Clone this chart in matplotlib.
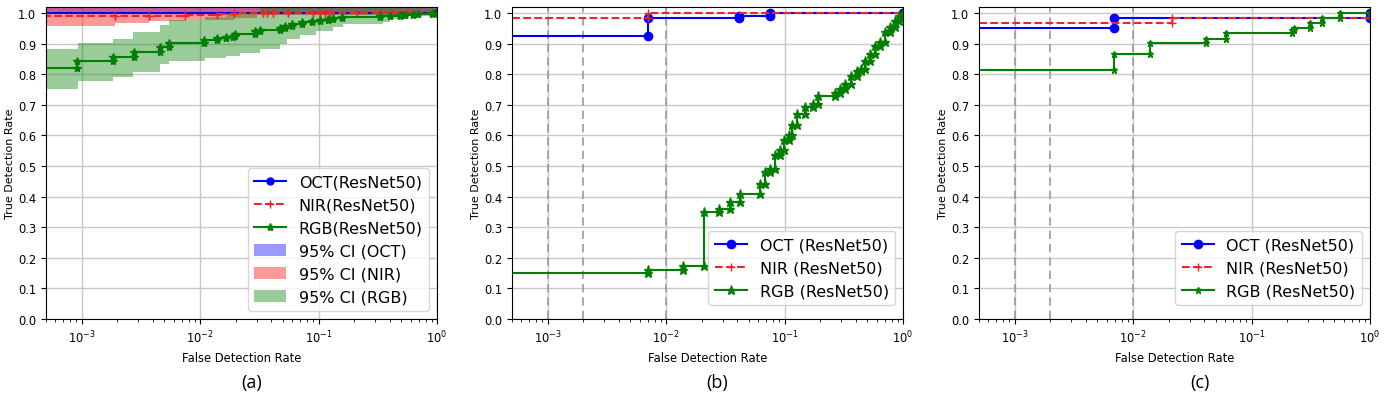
import numpy as np
import matplotlib
matplotlib.use("Agg")
import matplotlib.pyplot as plt

# ---- panel (a): mean ROC with 95% CI ----
a_oct_fpr = [0, 1.0]
a_oct_tpr = [1.0, 1.0]
a_oct_ci_x = [0, 1.0]
a_oct_lo = [0.997, 0.997]
a_oct_hi = [1.016, 1.016]

a_nir_fpr = [0, 0.0019, 0.0037, 0.0074, 0.014, 0.0195, 0.034, 0.0365, 0.041, 0.055,
             0.089, 0.103, 0.113, 0.125, 0.21, 0.33, 0.42, 0.49, 0.56, 0.92, 1.0]
a_nir_tpr = [0.99, 0.99, 0.99, 0.995, 0.996, 1.0, 1.0, 1.0, 1.0, 1.0,
             1.0, 1.0, 1.0, 1.0, 1.0, 1.0, 1.0, 1.0, 1.0, 1.0, 1.0]
a_nir_ci_x = [0, 0.0019, 0.0037, 0.0074, 0.0195, 0.03, 1.0]
a_nir_lo = [0.958, 0.967, 0.974, 0.978, 0.985, 0.995, 0.995]
a_nir_hi = [1.016, 1.016, 1.016, 1.016, 1.016, 1.016, 1.016]

a_rgb_fpr = [0, 0.00092, 0.00184, 0.00275, 0.0046, 0.0055, 0.0108, 0.0138, 0.0166, 0.019,
             0.0196, 0.029, 0.032, 0.047, 0.052, 0.060, 0.072, 0.088, 0.103, 0.120,
             0.132, 0.158, 0.33, 0.40, 0.49, 0.54, 0.63, 0.69, 0.91, 1.0]
a_rgb_tpr = [0.819, 0.842, 0.855, 0.872, 0.890, 0.903, 0.911, 0.918, 0.922, 0.926,
             0.932, 0.940, 0.944, 0.952, 0.957, 0.963, 0.970, 0.975, 0.977, 0.980,
             0.983, 0.986, 0.989, 0.992, 0.994, 0.995, 0.996, 0.997, 0.999, 1.0]
a_rgb_ci_x = [0, 0.00093, 0.00184, 0.0027, 0.0046, 0.0055, 0.0109, 0.0167, 0.0216, 0.032,
              0.047, 0.054, 0.070, 0.096, 0.133, 0.162, 0.35, 0.40, 0.55, 0.93, 1.0]
a_rgb_lo = [0.752, 0.779, 0.790, 0.806, 0.834, 0.845, 0.852, 0.861, 0.870, 0.883,
            0.900, 0.915, 0.930, 0.942, 0.953, 0.964, 0.970, 0.980, 0.990, 0.998, 0.998]
a_rgb_hi = [0.883, 0.901, 0.917, 0.937, 0.961, 0.977, 0.986, 1.0, 1.0, 1.016,
            1.016, 1.016, 1.016, 1.016, 1.016, 1.016, 1.016, 1.016, 1.016, 1.016, 1.016]

# ---- panel (b) ----
b_oct_fpr = [0, 0.007, 0.041, 0.0757, 1.0]
b_oct_tpr = [0.926, 0.984, 0.992, 1.0, 1.0]
b_nir_fpr = [0, 0.007, 1.0]
b_nir_tpr = [0.984, 1.0, 1.0]
b_rgb_fpr = [0, 0.007, 0.0139, 0.0207, 0.0277, 0.0343, 0.0417, 0.0622, 0.0687, 0.0757,
             0.083, 0.092, 0.098, 0.108, 0.115, 0.127, 0.149, 0.175, 0.192, 0.265,
             0.292, 0.322, 0.366, 0.405, 0.446, 0.476, 0.524, 0.58, 0.64, 0.70,
             0.77, 0.85, 0.93, 1.0]
b_rgb_tpr = [0.149, 0.160, 0.174, 0.351, 0.360, 0.383, 0.408, 0.442, 0.480, 0.491,
             0.535, 0.551, 0.584, 0.600, 0.633, 0.671, 0.692, 0.703, 0.728, 0.740,
             0.752, 0.768, 0.793, 0.812, 0.817, 0.845, 0.866, 0.893, 0.904, 0.937,
             0.953, 0.975, 0.991, 1.0]

# ---- panel (c) ----
c_oct_fpr = [0, 0.0069, 1.0]
c_oct_tpr = [0.951, 0.984, 1.0]
c_nir_fpr = [0, 0.0211, 1.0]
c_nir_tpr = [0.967, 0.984, 0.984]
c_rgb_fpr = [0, 0.0069, 0.0138, 0.041, 0.061, 0.218, 0.228, 0.312, 0.39, 0.56, 1.0]
c_rgb_tpr = [0.815, 0.866, 0.901, 0.917, 0.935, 0.945, 0.951, 0.967, 0.984, 1.0, 1.0]

ZERO = 1e-6  # stand-in for fpr = 0 on the log axis


def corners(fpr, tpr):
    # roc points include both corners of every vertical jump
    xs, ys = [fpr[0]], [tpr[0]]
    for i in range(1, len(fpr)):
        xs += [fpr[i], fpr[i]]
        ys += [tpr[i - 1], tpr[i]]
    xs = np.maximum(np.array(xs, dtype=float), ZERO)
    return xs, np.array(ys)


def roc(ax, fpr, tpr, fmt, label, **kw):
    x, y = corners(fpr, tpr)
    ax.plot(x, y, fmt, label=label, lw=1.5, **kw)


def ci(ax, x, lo, hi, color, label):
    x = np.maximum(np.array(x, dtype=float), ZERO)
    ax.fill_between(x, lo, hi, step='post', color=color, alpha=0.4,
                    lw=0, label=label)


def style(ax, vlines):
    ax.set_xscale('log')
    ax.set_xlim(5e-4, 1.0)
    ax.set_ylim(0, 1.02)
    ax.set_yticks(np.arange(0, 1.01, 0.1))
    ax.grid(True, which='major', color='#c8c8c8', lw=1)
    ax.set_axisbelow(True)
    if vlines:
        for v in [1e-3, 2e-3, 1e-2]:
            ax.axvline(v, color='#9a9a9a', ls='--', lw=1.2, dashes=(5, 3), zorder=1.5)
    ax.tick_params(labelsize=8.3)
    ax.set_xlabel('False Detection Rate', fontsize=8.3)
    ax.set_ylabel('True Detection Rate', fontsize=8, labelpad=2)


fig = plt.figure(figsize=(13.87, 4.02), dpi=100)
W, H = 1387, 402
lefts = [46, 512, 979]
axs = [fig.add_axes([l / W, 1 - 320 / H, 391 / W, 312 / H]) for l in lefts]

# (a)
ax = axs[0]
style(ax, False)
ci(ax, a_oct_ci_x, a_oct_lo, a_oct_hi, 'blue', '95% CI (OCT)')
ci(ax, a_nir_ci_x, a_nir_lo, a_nir_hi, 'red', '95% CI (NIR)')
ci(ax, a_rgb_ci_x, a_rgb_lo, a_rgb_hi, 'green', '95% CI (RGB)')
roc(ax, a_oct_fpr, a_oct_tpr, 'b-o', 'OCT(ResNet50)', ms=5)
roc(ax, a_nir_fpr, a_nir_tpr, 'r--+', 'NIR(ResNet50)', ms=6, color='#e8262a')
roc(ax, a_rgb_fpr, a_rgb_tpr, 'g-*', 'RGB(ResNet50)', ms=6)
h, l = ax.get_legend_handles_labels()
order = [3, 4, 5, 0, 1, 2]
ax.legend([h[i] for i in order], [l[i] for i in order], loc='lower right', fontsize=11.5)

# (b)
ax = axs[1]
style(ax, True)
roc(ax, b_oct_fpr, b_oct_tpr, 'b-o', 'OCT (ResNet50)', ms=6)
roc(ax, b_nir_fpr, b_nir_tpr, 'r--+', 'NIR (ResNet50)', ms=6, color='#e8262a')
roc(ax, b_rgb_fpr, b_rgb_tpr, 'g-*', 'RGB (ResNet50)', ms=6.5)
ax.legend(loc='lower right', fontsize=11.5, bbox_to_anchor=(1.0, 0.02))

# (c)
ax = axs[2]
style(ax, True)
roc(ax, c_oct_fpr, c_oct_tpr, 'b-o', 'OCT (ResNet50)', ms=6)
roc(ax, c_nir_fpr, c_nir_tpr, 'r--+', 'NIR (ResNet50)', ms=6, color='#e8262a')
roc(ax, c_rgb_fpr, c_rgb_tpr, 'g-*', 'RGB (ResNet50)', ms=5)
ax.legend(loc='lower right', fontsize=11.5, bbox_to_anchor=(1.0, 0.02))

for x, t in zip([252, 717, 1200], ['(a)', '(b)', '(c)']):
    fig.text(x / W, 1 - 383 / H, t, ha='center', va='center', fontsize=13,
             family='Open Sans')

fig.savefig('out.png', dpi=100)
